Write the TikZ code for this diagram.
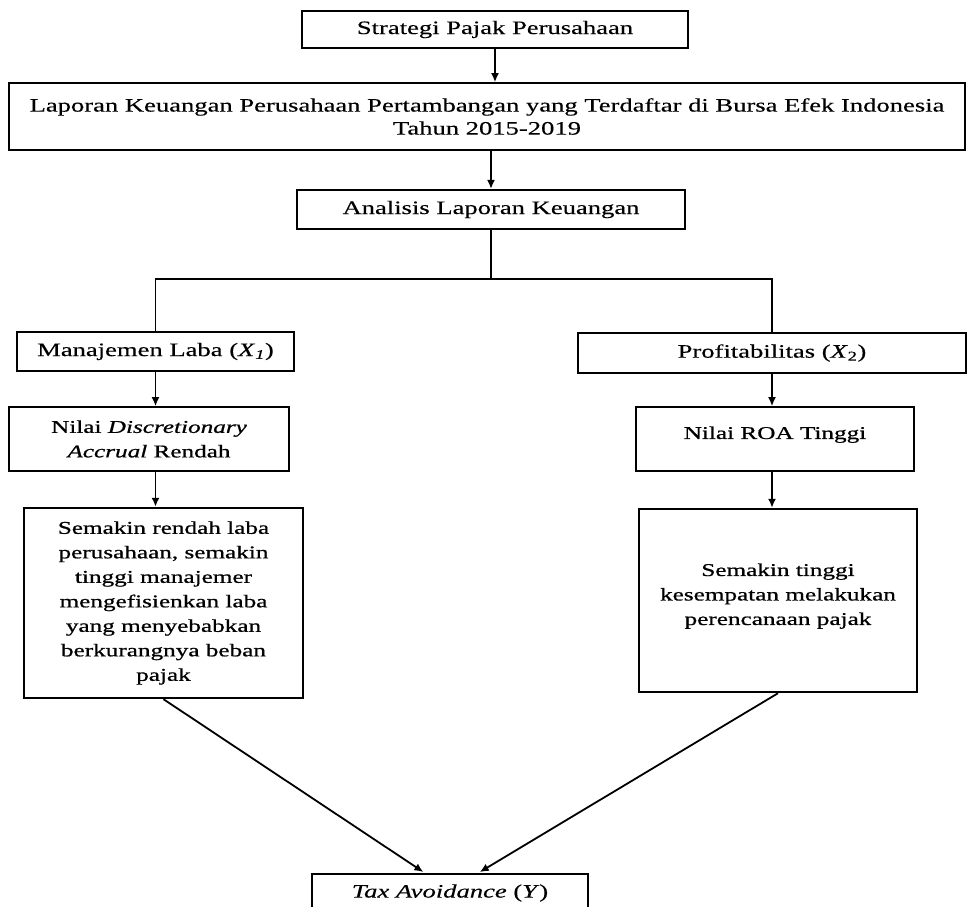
\documentclass[tikz,border=0pt]{standalone}
\usepackage{fontspec}
\setmainfont{Liberation Serif}[FakeStretch=1.4, FakeBold=0.3]
\newfontfamily\isifont{Liberation Serif}[FakeStretch=1.4, FakeBold=0.8]
\usetikzlibrary{arrows.meta}
\tikzset{
	kotak/.style={draw, line width=1.8pt, align=center, inner sep=2pt, font=\isifont\fontsize{18}{24.5}\selectfont},
	kotakatas/.style={kotak, font=\rmfamily\fontsize{19}{23}\selectfont},
	panah/.style={line width=1.8pt, -{Latex[length=9pt,width=8pt]}},
	garis/.style={line width=1.8pt},
}

\begin{document}
\begin{tikzpicture}[x=1pt,y=-1pt]
		%%%%% START %%%%%
		\useasboundingbox (0,0) rectangle (970,907);
		
		\node[kotakatas, line width=2.2pt, minimum width=386pt, minimum height=37pt] (strategi) at (495, 29.5) {Strategi Pajak Perusahaan};
		\node[kotakatas, line width=1.6pt, minimum width=956pt, minimum height=67pt] (laporan) at (487, 116.5) {Laporan Keuangan Perusahaan Pertambangan yang Terdaftar di Bursa Efek Indonesia\\Tahun 2015-2019};
		\node[kotakatas, line width=2.2pt, minimum width=388pt, minimum height=39pt] (analisis) at (491, 209.5) {Analisis Laporan Keuangan};
		
		\draw[panah] (strategi.south) -- (strategi.south |- laporan.north);
		\draw[panah] (analisis.north |- laporan.south) -- (analisis.north);
		
		\node[kotakatas, line width=2.2pt, minimum width=277pt, minimum height=39pt] (manajemen) at (155.5, 351.5) {Manajemen Laba (\textit{X}\textsubscript{\textit{1}})};
		\node[kotakatas, minimum width=388pt, minimum height=40pt] (profit) at (772, 353) {Profitabilitas (\textit{X}\textsubscript{2})};
		
		\coordinate (cabang) at (491, 279);
		\draw[garis] (analisis.south) -- (cabang);
		\draw[garis] (manajemen.north) |- (cabang) -| (profit.north);
		
		\node[kotak, line width=1.6pt, minimum width=280pt, minimum height=64pt] (nilaida) at (149, 439) {Nilai \textit{Discretionary}\\\textit{Accrual} Rendah};
		\node[kotak, line width=1.6pt, minimum width=278pt, minimum height=64pt] (nilairoa) at (775, 439) {Nilai ROA Tinggi\\[-12pt]\mbox{}};
		
		\draw[panah] (manajemen.south) -- (manajemen.south |- nilaida.north);
		\draw[panah] (profit.south) -- (profit.south |- nilairoa.north);
		
		\node[kotak, line width=2.4pt, minimum width=279pt, minimum height=190pt] (rendah) at (163.5, 603) {Semakin rendah laba\\perusahaan, semakin\\tinggi manajemer\\mengefisienkan laba\\yang menyebabkan\\berkurangnya beban\\pajak};
		\node[kotak, line width=2.4pt, minimum width=278pt, minimum height=183pt] (tinggi) at (778, 600.5) {Semakin tinggi\\kesempatan melakukan\\perencanaan pajak\\[-12pt]\mbox{}};
		
		\draw[panah] (manajemen.south |- nilaida.south) -- (manajemen.south |- rendah.north);
		\draw[panah] (profit.south |- nilairoa.south) -- (profit.south |- tinggi.north);
		
		\node[kotakatas, line width=1.8pt, minimum width=276pt, minimum height=38pt] (tax) at (450, 893) {\textit{Tax Avoidance} (\textit{Y})};
		
		\draw[panah, shorten >=2pt] (rendah.south) -- ([xshift=-25pt]tax.north);
		\draw[panah, shorten >=2pt] (tinggi.south) -- ([xshift=28pt]tax.north);
		
		%%%%% END %%%%%
\end{tikzpicture}
\end{document}
